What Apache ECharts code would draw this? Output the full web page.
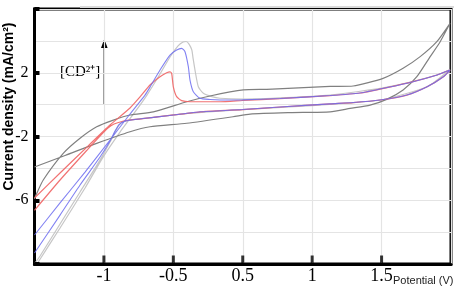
<!DOCTYPE html>
<html>
<head>
<meta charset="utf-8">
<script src="https://cdn.jsdelivr.net/npm/echarts@6/dist/echarts.min.js"></script>
<style>
  html, body { margin: 0; padding: 0; background: #fff; }
  #echart { width: 454px; height: 291px; }
</style>
</head>
<body>
<div id="echart"></div>
<script>
var myChart = echarts.init(document.getElementById('echart'));

// x tick labels as printed on the figure (the "0" label is absent)
var xTickLabels = {'-1': '-1', '-0.5': '-0.5', '0': '0.5', '0.5': '1', '1': '1.5'};
var xTickPositions = [-1, -0.5, 0, 0.5, 1];
var yTickLabels = ['2', '-2', '-6'];

// dark gray CV, outer loop
var darkGray = [
    [-1.5, -3.91], [-1.28, -3.19], [-1.052, -2.43], [-0.812, -1.70], [-0.668, -1.39],
    [-0.403, -1.17], [-0.07, -0.76], [0.053, -0.59], [0.341, -0.50], [0.629, -0.45],
    [0.773, -0.24], [0.917, -0.03], [1.037, 0.33], [1.155, 0.92], [1.254, 1.75],
    [1.35, 3.01], [1.421, 3.93], [1.493, 5.10],
    [1.398, 3.95], [1.278, 3.01], [1.155, 2.28], [1.011, 1.65], [0.795, 1.17],
    [0.629, 1.14], [0.173, 0.96], [0.004, 0.92], [-0.236, 0.54], [-0.403, 0.18],
    [-0.644, -0.45], [-0.812, -0.65], [-0.932, -0.97], [-1.052, -1.39], [-1.172, -2.11],
    [-1.293, -3.06], [-1.437, -4.73], [-1.489, -5.67], [-1.5, -5.92]
];

// light gray CV, highest peak
var lightGray = [
    [-1.482, -10.0], [-1.316, -7.74], [-1.136, -5.23], [-1.006, -3.29], [-0.884, -1.72],
    [-0.776, -0.46], [-0.69, 0.60], [-0.596, 1.92], [-0.524, 2.99], [-0.466, 3.68],
    [-0.43, 3.93], [-0.408, 3.96], [-0.387, 3.80], [-0.367, 3.43], [-0.358, 2.92],
    [-0.344, 2.17], [-0.32, 1.12], [-0.284, 0.71], [-0.223, 0.50], [-0.164, 0.40],
    [-0.002, 0.35], [0.629, 0.60], [1.039, 1.10], [1.40, 1.86], [1.493, 2.20],
    [1.328, 1.12], [0.989, 0.29], [0.557, -0.03], [-0.002, -0.31], [-0.411, -0.56],
    [-0.647, -0.80], [-0.776, -0.93], [-0.855, -1.06], [-0.891, -1.28], [-0.92, -1.72],
    [-0.956, -2.35], [-1.028, -3.48], [-1.172, -5.48], [-1.316, -7.49], [-1.46, -9.50],
    [-1.496, -9.94]
];

// red CV
var redCurve = [
    [-1.5, -5.86], [-1.316, -4.29], [-1.115, -2.60], [-0.956, -1.28], [-0.812, -0.21],
    [-0.74, 0.48], [-0.668, 1.23], [-0.596, 1.75], [-0.548, 2.00], [-0.524, 2.06],
    [-0.512, 1.96], [-0.5, 1.12], [-0.476, 0.50], [-0.44, 0.25], [-0.38, 0.18],
    [-0.164, 0.18], [-0.002, 0.26], [0.269, 0.38], [0.629, 0.57], [0.845, 0.73],
    [1.039, 1.07], [1.227, 1.44], [1.40, 1.86], [1.493, 2.17],
    [1.445, 1.75], [1.328, 1.12], [1.182, 0.60], [0.989, 0.29], [0.795, 0.13],
    [0.629, 0.05], [0.269, -0.15], [-0.002, -0.31], [-0.308, -0.45], [-0.411, -0.56],
    [-0.644, -0.80], [-0.776, -0.93], [-0.87, -1.06], [-0.927, -1.22], [-0.971, -1.47],
    [-1.028, -1.97], [-1.115, -2.79], [-1.316, -4.73], [-1.5, -6.63]
];

// blue CV
var blueCurve = [
    [-1.5, -8.18], [-1.316, -6.17], [-1.136, -4.23], [-0.956, -2.22], [-0.812, -0.59],
    [-0.704, 0.60], [-0.668, 1.10], [-0.596, 2.17], [-0.524, 3.11], [-0.476, 3.43],
    [-0.44, 3.53], [-0.416, 3.32], [-0.392, 2.38], [-0.38, 1.54], [-0.356, 0.81],
    [-0.308, 0.40], [-0.236, 0.32], [-0.164, 0.29], [-0.002, 0.30], [0.269, 0.38],
    [0.629, 0.57], [0.845, 0.73], [1.039, 1.07], [1.227, 1.44], [1.40, 1.86], [1.493, 2.17],
    [1.445, 1.75], [1.328, 1.12], [1.182, 0.60], [0.989, 0.29], [0.795, 0.13],
    [0.629, 0.05], [0.269, -0.15], [-0.002, -0.31], [-0.308, -0.45], [-0.411, -0.56],
    [-0.644, -0.80], [-0.776, -0.93], [-0.855, -1.06], [-0.891, -1.25], [-0.92, -1.66],
    [-0.956, -2.28], [-1.028, -3.29], [-1.172, -5.04], [-1.316, -6.93], [-1.5, -9.31]
];

var serif = "'Liberation Serif', 'Times New Roman', serif";
var sans = "'Liberation Sans', Arial, sans-serif";

var yMin = -10, yMax = 6;

function cvLine(data, color, width, opacity) {
    return {
        type: 'line',
        data: data,
        showSymbol: false,
        smooth: 0.2,
        lineStyle: {color: color, width: width, opacity: opacity},
        animation: false,
        z: 3
    };
}

// short black tick marks standing on the bottom axis, as rect symbols
var tickPoints = xTickPositions.map(function (t) { return [t, yMin]; });

var option = {
    backgroundColor: '#fff',
    grid: {
        left: 34.5, right: 3, top: 9, bottom: 27,
        show: true, borderColor: '#000', borderWidth: 3
    },
    xAxis: {
        type: 'value',
        min: -1.5, max: 1.5, interval: 0.5,
        axisLine: {show: true, onZero: false, lineStyle: {color: '#000', width: 3}},
        axisTick: {show: false},
        axisLabel: {
            margin: 3, color: '#000', fontFamily: serif, fontSize: 18,
            formatter: function (v) {
                var k = String(Math.round(v * 10) / 10);
                return xTickLabels[k] || '';
            }
        },
        splitLine: {show: true, lineStyle: {color: '#e4e4e4', width: 1.2}}
    },
    yAxis: [
        {
            type: 'value',
            min: yMin, max: yMax, interval: 2,
            axisLine: {show: true, onZero: false, lineStyle: {color: '#000', width: 3}},
            axisTick: {show: false},
            axisLabel: {
                margin: 6, color: '#000', fontFamily: serif, fontSize: 16,
                formatter: function (v) {
                    var s = String(v);
                    return yTickLabels.indexOf(s) >= 0 ? s : '';
                }
            },
            splitLine: {show: true, lineStyle: {color: '#e4e4e4', width: 1.2}}
        },
        {
            type: 'value',
            position: 'left', offset: 0,
            min: yMin, max: yMax, interval: 4,
            z: 5,
            axisLine: {show: false, onZero: false},
            axisTick: {show: true, inside: true, length: 5, lineStyle: {color: '#000', width: 4}},
            axisLabel: {show: false},
            splitLine: {show: false}
        }
    ],
    series: [
        cvLine(lightGray, '#c6c6c6', 1.2, 1),
        cvLine(darkGray, '#808080', 1.2, 1),
        cvLine(redCurve, '#f06464', 1.2, 0.9),
        cvLine(blueCurve, '#6b6bf0', 1.1, 0.85),
        {
            type: 'scatter',
            data: tickPoints,
            clip: false,
            symbol: 'rect',
            symbolSize: [3, 9],
            symbolOffset: [0, -4],
            itemStyle: {color: '#000'},
            silent: true,
            animation: false,
            z: 10
        }
    ],
    graphic: [
        {type: 'line', shape: {x1: 80, y1: 7, x2: 454, y2: 7}, style: {stroke: '#dadada', lineWidth: 2}},
        {type: 'line', shape: {x1: 104.3, y1: 105, x2: 104.3, y2: 46}, style: {stroke: '#000', lineWidth: 1.4}},
        {type: 'polygon', shape: {points: [[101, 48], [107.6, 48], [104.3, 39]]}, style: {fill: '#000'}},
        {
            type: 'text', x: 60, y: 72,
            style: {text: '[CD²⁺]', font: '15px ' + serif, fill: '#000', verticalAlign: 'middle'}
        },
        {
            type: 'text', x: 9.5, y: 106.5, rotation: Math.PI / 2,
            style: {
                text: 'Current density (mA/cm²)', font: 'bold 14px ' + sans, fill: '#000',
                align: 'center', verticalAlign: 'middle'
            }
        },
        {
            type: 'text', x: 393, y: 281,
            style: {text: 'Potential (V)', font: '11px ' + sans, fill: '#222', verticalAlign: 'middle'}
        }
    ]
};

myChart.setOption(option);
</script>
</body>
</html>
